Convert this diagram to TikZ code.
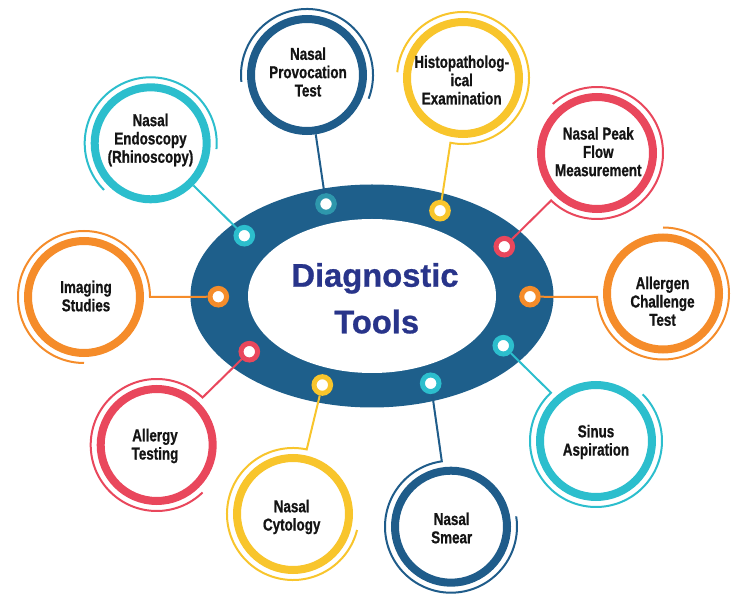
\documentclass[tikz,border=0pt]{standalone}
\usepackage{fontspec}
\usetikzlibrary{calc}
\newfontfamily\labfont{Liberation Sans}[FakeStretch=0.78,FakeBold=0.8]
\newfontfamily\titlefont{Liberation Sans}[FakeBold=0.8]
\definecolor{ringblue}{HTML}{1E5F8B}
\definecolor{navy}{HTML}{28348A}
\definecolor{dkblue}{HTML}{1F5C8A}
\definecolor{teal}{HTML}{2CBECD}
\definecolor{orange}{HTML}{F58C2A}
\definecolor{red}{HTML}{E9475C}
\definecolor{yellow}{HTML}{F8C52C}
\definecolor{provdot}{HTML}{2E97AC}
\begin{document}
\begin{tikzpicture}[x=1pt,y=1pt,
  bigring/.style={circle, draw=#1, line width=8pt, fill=white, minimum size=112pt, inner sep=0pt},
  hubdot/.style={circle, draw=#1, line width=5pt, fill=white, minimum size=16.6pt, inner sep=0pt},
  conn/.style={draw=#1, line width=2pt},
  lab/.style={align=center, text=black!92, font=\labfont\bfseries\fontsize{17.2}{18.3}\selectfont},
  ttl/.style={text=navy, anchor=base, inner sep=0pt, font=\titlefont\bfseries\fontsize{32.7}{46.6}\selectfont}]
\useasboundingbox (0,0) rectangle (750,600);
% central ellipse
\coordinate (hub) at (372,304);
\fill[ringblue] (hub) ellipse [x radius=181.5, y radius=111.5];
\fill[white] (hub) ellipse [x radius=124, y radius=77];
\node[ttl] (t1) at (375,313.3) {Diagnostic};
\node[ttl] (t2) at (376.7,266.7) {Tools};
% dots
\node[hubdot=teal]    (dA) at (244.3,364.3) {};
\node[hubdot=provdot] (dB) at (326,396) {};
\node[hubdot=yellow]  (dC) at (440,389.3) {};
\node[hubdot=red]     (dD) at (504.3,353.3) {};
\node[hubdot=orange]  (dE) at (530,303.3) {};
\node[hubdot=teal]    (dF) at (503.3,254.3) {};
\node[hubdot=teal]    (dG) at (430.7,216.7) {};
\node[hubdot=yellow]  (dH) at (322.3,215) {};
\node[hubdot=red]     (dI) at (249.3,248.3) {};
\node[hubdot=orange]  (dJ) at (218.3,303.3) {};
% circles
\node[bigring=teal]   (cA) at (150.7,456.7) {};
\node[bigring=dkblue] (cB) at (307,525) {};
\node[bigring=yellow] (cC) at (463,522) {};
\node[bigring=red]    (cD) at (597,447) {};
\node[bigring=orange] (cE) at (663,306.5) {};
\node[bigring=teal]   (cF) at (596,159) {};
\node[bigring=dkblue] (cG) at (451,73.3) {};
\node[bigring=yellow] (cH) at (293,86) {};
\node[bigring=red]    (cI) at (156.7,155) {};
\node[bigring=orange] (cJ) at (84,303) {};
% connectors and outer arcs
\draw[conn=teal] (dA) -- (cA);
\draw[conn=teal] (cA) ++(-5:66) arc[start angle=-5, end angle=225, radius=66];
\draw[conn=dkblue] (dB) -- (cB);
\draw[conn=dkblue] (cB) ++(-21:66) arc[start angle=-21, end angle=186, radius=66];
\coordinate (eC) at ($(cC)+(-101:66)$);
\draw[conn=yellow] (dC) -- (eC) arc[start angle=-101, end angle=175, radius=66];
\coordinate (eD) at ($(cD)+(-134:66)$);
\draw[conn=red] (dD) -- (eD) arc[start angle=-134, end angle=132, radius=66];
\coordinate (eE) at ($(cE)+(183:66)$);
\draw[conn=orange] (dE) -- (eE) arc[start angle=183, end angle=450, radius=66];
\coordinate (eF) at ($(cF)+(133:66)$);
\draw[conn=teal] (dF) -- (eF) arc[start angle=133, end angle=405, radius=66];
\coordinate (eG) at ($(cG)+(98:66)$);
\draw[conn=dkblue] (dG) -- (eG) arc[start angle=98, end angle=369, radius=66];
\coordinate (eH) at ($(cH)+(78:66)$);
\draw[conn=yellow] (dH) -- (eH) arc[start angle=78, end angle=346, radius=66];
\coordinate (eI) at ($(cI)+(46:66)$);
\draw[conn=red] (dI) -- (eI) arc[start angle=46, end angle=314, radius=66];
\coordinate (eJ) at ($(cJ)+(0:66)$);
\draw[conn=orange] (dJ) -- (eJ) arc[start angle=0, end angle=270, radius=66];
% labels
\node[lab] (lA) at (150.5,460) {Nasal\\Endoscopy\\(Rhinoscopy)};
\node[lab] (lB) at (308,528) {Nasal\\Provocation\\Test};
\node[lab] (lC) at (461.7,520) {Histopatholog-\\ical\\Examination};
\node[lab] (lD) at (598.3,448.3) {Nasal Peak\\Flow\\Measurement};
\node[lab] (lE) at (662.5,298.7) {Allergen\\Challenge\\Test};
\node[lab] (lF) at (596,158) {Sinus\\Aspiration};
\node[lab] (lG) at (451.7,72) {Nasal\\Smear};
\node[lab] (lH) at (291.7,83) {Nasal\\Cytology};
\node[lab] (lI) at (155,154) {Allergy\\Testing};
\node[lab] (lJ) at (86,304) {Imaging\\Studies};
\end{tikzpicture}
\end{document}
